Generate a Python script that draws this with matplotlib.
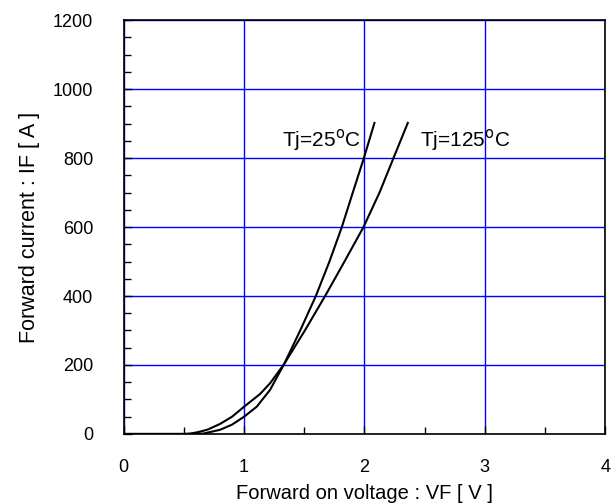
import numpy as np
import matplotlib
matplotlib.use('Agg')
import matplotlib.pyplot as plt
from matplotlib.ticker import MultipleLocator

# Forward characteristic
vf_25 = [0, 0.55, 0.66, 0.80, 0.90, 1.0, 1.105, 1.216, 1.333, 1.466,
         1.596, 1.709, 1.812, 1.903, 1.995, 2.083]
if_25 = [0, 0, 1, 12, 27, 50, 79, 128, 203, 300,
         400, 500, 600, 700, 800, 902]
vf_125 = [0, 0.5, 0.55, 0.6, 0.66, 0.7, 0.80, 0.9, 1.0, 1.133, 1.216, 1.333,
          1.505, 1.673, 1.834, 1.992, 2.125, 2.241, 2.36]
if_125 = [0, 0, 1, 4, 9, 13, 29, 50, 79, 116, 147, 203,
          300, 400, 500, 600, 700, 800, 902]

plt.rcParams['font.family'] = ['Liberation Sans', 'DejaVu Sans']

fig = plt.figure(figsize=(6.11, 5.04), dpi=100)
ax = fig.add_axes([0.2025, 0.139, 0.788, 0.821])

ax.plot(vf_25, if_25, color='black', lw=1.5)
ax.plot(vf_125, if_125, color='black', lw=1.5)

ax.text(1.966, 852, 'Tj=25$^{\\rm o}$C', ha='right', va='center', fontsize=15)
ax.text(2.463, 852, 'Tj=125$^{\\rm o}$C', ha='left', va='center', fontsize=15)

ax.set_xlim(0, 4)
ax.set_ylim(0, 1200)
ax.xaxis.set_major_locator(MultipleLocator(1))
ax.xaxis.set_minor_locator(MultipleLocator(0.5))
ax.yaxis.set_major_locator(MultipleLocator(200))
ax.yaxis.set_minor_locator(MultipleLocator(50))
ax.tick_params(which='both', direction='in', labelsize=13, width=1)
ax.tick_params(which='major', length=6)
ax.tick_params(which='minor', length=5)
ax.tick_params(axis='x', which='major', pad=18)
ax.tick_params(axis='y', which='major', pad=22)
ax.grid(True, which='major', color='#0000ff', lw=1)
for s in ax.spines.values():
    s.set_linewidth(1.2)

ax.set_xlabel('Forward on voltage : VF [ V ]', fontsize=14.5, labelpad=6)
ax.set_ylabel('Forward current : IF [ A ]', fontsize=15.5, labelpad=9)

fig.savefig('out.png', dpi=100)
